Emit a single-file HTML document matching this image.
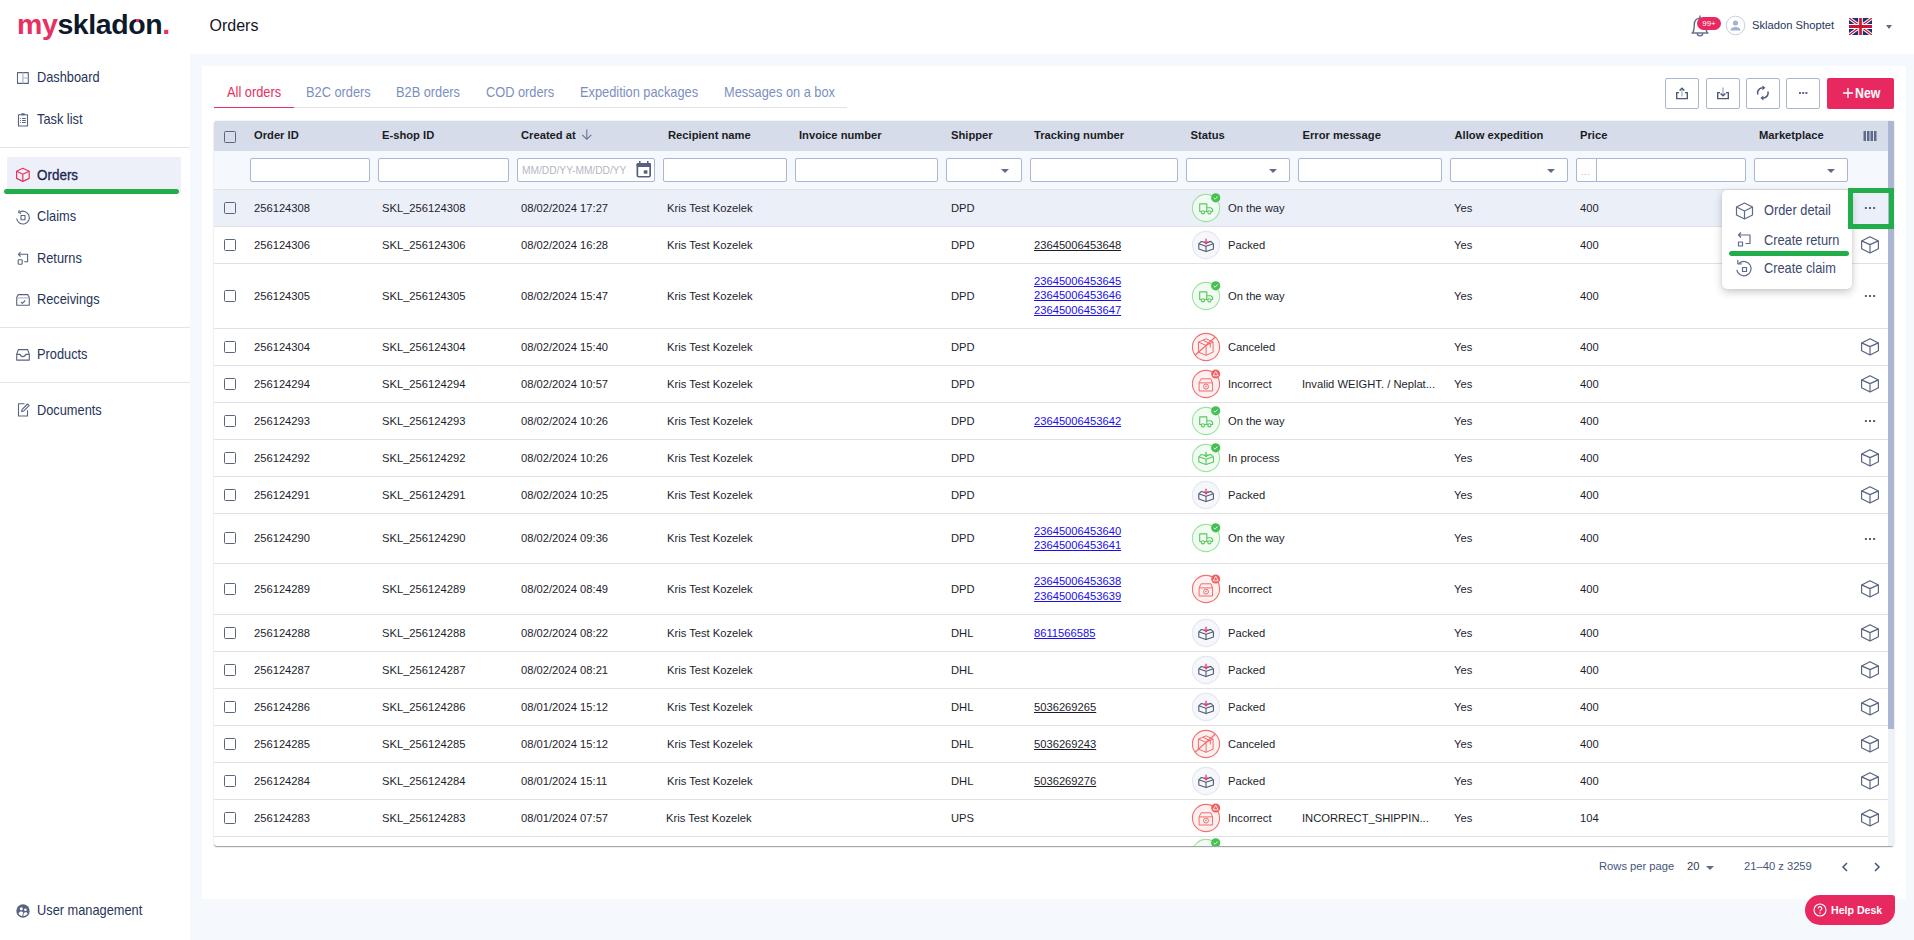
<!DOCTYPE html><html><head><meta charset="utf-8"><title>Orders</title><style>
*{box-sizing:border-box;margin:0;padding:0}
html,body{width:1914px;height:940px;overflow:hidden;background:#f5f8fd;font-family:"Liberation Sans", sans-serif;}
.abs{position:absolute}
#side{position:absolute;left:0;top:0;width:190px;height:940px;background:#fff}
#top{position:absolute;left:0;top:0;width:1914px;height:54px;background:#fff}
.nav{position:absolute;left:0;width:190px;font-size:12.8px;color:#26345a;height:20px;line-height:20px}
.nav span{position:absolute;left:36.9px;top:0px;font-size:14.1px;transform:scaleX(0.908);transform-origin:0 0;white-space:nowrap}
.nav svg{position:absolute;left:16px;top:4px}
.sep{position:absolute;left:0;width:190px;height:1px;background:#e3e4e8}
#card{position:absolute;left:202px;top:66px;width:1704px;height:833px;background:#fff}
.tab{position:absolute;top:84px;font-size:14.1px;color:#7c8fbf;line-height:16px;white-space:nowrap;transform:scaleX(0.908);transform-origin:0 0}
.th{position:absolute;top:128px;font-size:11.2px;font-weight:bold;color:#1a1c24;line-height:14px;white-space:nowrap}
.inp{position:absolute;top:158px;height:24px;background:#fff;border:1px solid #a9b6d4;border-radius:2px}
.car{position:absolute;width:0;height:0;border-left:4.5px solid transparent;border-right:4.5px solid transparent;border-top:5px solid #5f6b8a}
.cb{position:absolute;width:12px;height:12px;border:1.5px solid #5c6580;border-radius:1.5px;background:transparent}
.row{position:absolute;left:214px;width:1674px;border-bottom:1px solid #e1e1e3}
.td{position:absolute;font-size:11.2px;color:#1d1e2c;line-height:14px;white-space:nowrap}
.lnk{color:#1a0dee;text-decoration:underline;}
.dk{color:#1d1e2c}
.btn{position:absolute;top:78px;width:34px;height:31px;border:1px solid #aab6d3;border-radius:2px;background:#fff}
.mi{position:absolute;left:1764px;font-size:14.1px;color:#3b4870;line-height:16px;transform:scaleX(0.908);transform-origin:0 0;white-space:nowrap}
</style></head><body>
<div id="top"></div>
<div class="abs" style="left:17px;top:4px;font-size:28.5px;font-weight:bold;letter-spacing:-0.4px;line-height:40px;white-space:nowrap"><span style="color:#e8305f">my</span><span style="color:#0e1a2b">skladon</span><span style="color:#e8305f">.</span></div>
<div class="abs" style="left:135.8px;top:18.5px;width:3.2px;height:3.2px;background:#e8305f"></div>
<div class="abs" style="left:209.5px;top:16px;font-size:16px;color:#12141f;line-height:20px">Orders</div>
<svg class="abs" style="left:1689px;top:13px" width="24" height="26" viewBox="0 0 24 26"><g fill="none" stroke="#5e6a88" stroke-width="1.4" stroke-linejoin="round"><path d="M2.5 20h17"/><path d="M3.5 20c1.5-2 1.8-4.5 1.8-8.5 0-4 2.6-6.3 5.7-6.3s5.7 2.3 5.7 6.3c0 4 .3 6.5 1.8 8.5"/><path d="M8.3 20.3a2.7 2.6 0 0 0 5.4 0"/><path d="M11 5V2.5"/></g></svg>
<div class="abs" style="left:1697px;top:16.5px;width:24px;height:13px;border-radius:7px;background:#e8285e;color:#fff;font-size:8px;line-height:13px;text-align:center">99+</div>
<svg class="abs" style="left:1725px;top:15px" width="22" height="22" viewBox="0 0 22 22"><circle cx="10.5" cy="10.5" r="9.3" fill="#fff" stroke="#c9cfdf" stroke-width="1"/><circle cx="10.5" cy="8" r="2.6" fill="#a6b1cc"/><path d="M5.5 15.5c0-2.5 2.5-3.5 5-3.5s5 1 5 3.5z" fill="#a6b1cc"/></svg>
<div class="abs" style="left:1752px;top:17.5px;font-size:11.2px;color:#26345a;line-height:15px">Skladon Shoptet</div>
<svg class="abs" style="left:1849px;top:18px" width="23" height="17" viewBox="0 0 60 40" preserveAspectRatio="none"><rect width="60" height="40" fill="#1f2f74"/><path d="M0 0L60 40M60 0L0 40" stroke="#fff" stroke-width="8"/><path d="M0 0L60 40M60 0L0 40" stroke="#cc1433" stroke-width="3"/><path d="M30 0v40M0 20h60" stroke="#fff" stroke-width="12"/><path d="M30 0v40M0 20h60" stroke="#cc1433" stroke-width="7"/></svg>
<div class="car" style="left:1885.5px;top:24.8px;border-left-width:3.8px;border-right-width:3.8px;border-top-width:4.2px;border-top-color:#5f6b8a"></div>
<div id="side" style="top:54px;height:886px"></div>
<div class="abs" style="left:190px;top:54px;width:1px;height:0"></div>
<div class="nav" style="top:67px"><span>Dashboard</span></div>
<div class="nav" style="top:109px"><span>Task list</span></div>
<div class="nav" style="top:206px"><span>Claims</span></div>
<div class="nav" style="top:248px"><span>Returns</span></div>
<div class="nav" style="top:289px"><span>Receivings</span></div>
<div class="nav" style="top:344px"><span>Products</span></div>
<div class="nav" style="top:400px"><span>Documents</span></div>
<div class="nav" style="top:900px"><span>User management</span></div>
<div class="sep" style="top:147px"></div>
<div class="sep" style="top:327px"></div>
<div class="sep" style="top:382px"></div>
<div class="abs" style="left:7px;top:157px;width:174px;height:36px;background:#edf0f8"></div>
<div class="abs" style="left:4px;top:189px;width:175px;height:5px;border-radius:3px;background:#22ad4b"></div>
<div class="nav" style="top:164.3px"><span style="font-size:14.3px;transform:scaleX(0.94);-webkit-text-stroke:0.3px #1a2550;color:#1a2550;top:0.5px">Orders</span></div>
<svg class="abs" style="left:0;top:0" width="40" height="940" viewBox="0 0 40 940"><g fill="none" stroke="#58647f" stroke-width="1.1" stroke-linejoin="round">
<rect x="17.5" y="72.6" width="10.8" height="10.8"/>
<rect x="18.5" y="114.7" width="9" height="11.3"/>
<path d="M21.3 114.3H24.7" stroke-width="2"/>
<path d="M20.2 118.5H21M22.1 118.5H25.8M20.2 120.5H21M22.1 120.5H25.8M20.2 122.5H21M22.1 122.5H25.8" stroke-width="1"/>
<path d="M16.6 218.5A6.4 6.4 0 1 0 19.5 212.2"/><path d="M19.4 210.2L18.6 212.4L21.2 213.4"/>
<rect x="21" y="215.5" width="4" height="4.2"/>
<path d="M18.5 254.3H27.6V261.8H24.2"/><path d="M20.6 252.2L18.4 254.3L20.6 256.5"/>
<rect x="18.2" y="259.8" width="4" height="4.4" rx="0.6"/>
<path d="M16.7 297.6L18.3 294.6H27.7L29.3 297.6V305.2H16.7Z"/><path d="M16.7 297.9H29.3" stroke="#a6afc4"/><path d="M21 302.2L22.3 303.4L25.3 300.5"/>
<path d="M16.7 354.4L18.3 349.6H27.7L29.3 354.4V360.1H16.7Z"/><path d="M16.7 354.4H20.2C20.6 356.6 21.5 356.6 22.9 356.6C24.3 356.6 25.2 356.6 25.6 354.4H29.3"/>
<path d="M24.5 403.8H18.5V416H27.5V410.2"/><path d="M21.6 411.6L22.2 409.3L27.5 404L29.1 405.6L23.8 410.9Z"/>
</g>
<path d="M22.9 72.6V83.4M22.9 78H28.3" stroke="#a6afc4" stroke-width="1.1"/>
<g fill="none" stroke="#e6365f" stroke-width="1.2" stroke-linejoin="round"><path d="M22.8 168.3L29.2 171.3V178.4L22.8 181.4L16.6 178.4V171.3Z"/><path d="M16.6 171.3L22.8 174.2L29.2 171.3M22.8 174.2V181.4"/></g>
<circle cx="23" cy="911" r="6.7" fill="#58647f"/><circle cx="21.3" cy="908.8" r="1.55" fill="#fff"/><circle cx="25.4" cy="909.8" r="1.3" fill="#fff"/>
<path d="M18.4 913.6C19.2 912.2 20.3 911.6 21.4 911.6C22.2 911.6 22.8 912 23.1 912.5L22.2 916.3C20.6 916 19.3 915 18.4 913.6Z" fill="#fff"/><path d="M23.6 913.4C24.1 912.6 24.8 912.3 25.5 912.3C26.4 912.3 27.2 912.8 27.7 913.6C26.8 915 25.4 916 23.4 916.3Z" fill="#fff"/>
</svg>
<div id="card"></div>
<div class="tab" style="left:227px;color:#e8305f">All orders</div>
<div class="tab" style="left:306.2px;">B2C orders</div>
<div class="tab" style="left:396.3px;">B2B orders</div>
<div class="tab" style="left:485.8px;">COD orders</div>
<div class="tab" style="left:580px;">Expedition packages</div>
<div class="tab" style="left:724px;">Messages on a box</div>
<div class="abs" style="left:214px;top:107px;width:633px;height:1px;background:#e2e3e8"></div>
<div class="abs" style="left:214px;top:106.6px;width:80px;height:1.8px;background:#e8305f"></div>
<div class="btn" style="left:1665px"><svg width="34" height="31" viewBox="0 0 34 31" style="position:absolute;left:0;top:0"><path d="M16 10v7.5" stroke="#aab4c8" stroke-width="1.4"/><g fill="none" stroke="#4d5878" stroke-width="1.4"><path d="M13 13.6H10.7V19.6H21.3V13.6H19"/><path d="M13.6 11.6L16 9.2l2.4 2.4"/></g></svg></div>
<div class="btn" style="left:1706px"><svg width="34" height="31" viewBox="0 0 34 31" style="position:absolute;left:0;top:0"><path d="M16 8.5V16" stroke="#aab4c8" stroke-width="1.4"/><g fill="none" stroke="#4d5878" stroke-width="1.4"><path d="M13 13.6H10.7V19.6H21.3V13.6H19"/><path d="M13.6 14.4L16 16.8l2.4-2.4"/></g></svg></div>
<div class="btn" style="left:1746px"><svg width="34" height="31" viewBox="0 0 34 31" style="position:absolute;left:0;top:0"><g fill="none" stroke="#4d5878" stroke-width="1.5"><path d="M10.8 15.5A5.1 5.1 0 0 1 15.5 8.8"/><path d="M20.9 12.5A5.1 5.1 0 0 1 16.2 19.1"/></g><path d="M15.4 6.4L18.4 8.8 15.4 11.3z M16.4 16.6L13.4 19.1 16.4 21.6z" fill="#4d5878"/></svg></div>
<div class="btn" style="left:1786px"><svg width="34" height="31" viewBox="0 0 34 31" style="position:absolute;left:0;top:0"><g fill="#5f6b8a"><rect x="12" y="13" width="2" height="2"/><rect x="15.2" y="13" width="2" height="2"/><rect x="18.4" y="13" width="2" height="2"/></g></svg></div>
<div class="abs" style="left:1827px;top:78px;width:67px;height:31px;background:#e8295f;border-radius:2px;color:#fff;font-size:13.5px;line-height:31px;white-space:nowrap"><svg style="position:absolute;left:16px;top:10px" width="10" height="10" viewBox="0 0 10 10"><path d="M5 0v10M0 5h10" stroke="#fff" stroke-width="1.4"/></svg><span style="position:absolute;left:28.3px;top:-0.3px;font-weight:bold;font-size:14px;transform:scaleX(0.88);transform-origin:0 50%">New</span></div>
<div class="abs" style="left:214px;top:121px;width:1680px;height:725px;background:#fff;border-radius:3.2px;box-shadow:0 1.6px 0.8px -0.8px rgba(0,0,0,.2),0 0.8px 0.8px rgba(0,0,0,.14),0 0.8px 2.4px rgba(0,0,0,.12)"></div>
<div class="abs" style="left:214px;top:121px;width:1674px;height:30px;background:#d7dcea;border-radius:3px 0 0 0"></div>
<div class="abs" style="left:214px;top:151px;width:1674px;height:39px;background:#f5f8fd;border-bottom:1px solid #e1e1e3"></div>
<div class="abs" style="left:1888px;top:121px;width:6px;height:725px;background:#eef1f7"></div>
<div class="abs" style="left:1888px;top:121px;width:6px;height:608px;background:#aab6d2"></div>
<div class="cb" style="left:224px;top:131px"></div>
<div class="th" style="left:254px">Order ID</div>
<div class="th" style="left:382px">E-shop ID</div>
<div class="th" style="left:521px">Created at</div>
<div class="th" style="left:668px">Recipient name</div>
<div class="th" style="left:799px">Invoice number</div>
<div class="th" style="left:951px">Shipper</div>
<div class="th" style="left:1034px">Tracking number</div>
<div class="th" style="left:1190.5px">Status</div>
<div class="th" style="left:1302.5px">Error message</div>
<div class="th" style="left:1454.5px">Allow expedition</div>
<div class="th" style="left:1580px">Price</div>
<div class="th" style="left:1759px">Marketplace</div>
<svg class="abs" style="left:580.5px;top:128.8px" width="12" height="12" viewBox="0 0 12 12"><g fill="none" stroke="#66718f" stroke-width="1.1"><path d="M5.8 0.5V10.3M1.3 5.8L5.8 10.3L10.3 5.8"/></g></svg>
<svg class="abs" style="left:1863px;top:130px" width="14" height="12" viewBox="0 0 14 12"><g fill="#5f6b8a"><rect x="0.5" y="1" width="2.5" height="10"/><rect x="4" y="1" width="2.5" height="10"/><rect x="7.5" y="1" width="2.5" height="10"/><rect x="11" y="1" width="2.5" height="10"/></g></svg>
<div class="inp" style="left:250px;width:120px"></div>
<div class="inp" style="left:378px;width:131px"></div>
<div class="inp" style="left:517px;width:138px"></div>
<div class="inp" style="left:663px;width:124px"></div>
<div class="inp" style="left:795px;width:143px"></div>
<div class="inp" style="left:946px;width:76px"></div>
<div class="car" style="left:1001px;top:169px;border-left-width:4.2px;border-right-width:4.2px;border-top-width:4.5px"></div>
<div class="inp" style="left:1030px;width:148px"></div>
<div class="inp" style="left:1186px;width:104px"></div>
<div class="car" style="left:1269px;top:169px;border-left-width:4.2px;border-right-width:4.2px;border-top-width:4.5px"></div>
<div class="inp" style="left:1298px;width:144px"></div>
<div class="inp" style="left:1450px;width:118px"></div>
<div class="car" style="left:1547px;top:169px;border-left-width:4.2px;border-right-width:4.2px;border-top-width:4.5px"></div>
<div class="inp" style="left:1576px;width:170px"></div>
<div class="inp" style="left:1754px;width:94px"></div>
<div class="car" style="left:1827px;top:169px;border-left-width:4.2px;border-right-width:4.2px;border-top-width:4.5px"></div>
<div class="abs" style="left:522px;top:164.5px;font-size:10.2px;color:#b3b7c2;line-height:12px;white-space:nowrap">MM/DD/YY-MM/DD/YY</div>
<svg class="abs" style="left:636px;top:160.5px" width="16" height="17" viewBox="0 0 16 17"><rect x="1.35" y="2.85" width="12.8" height="12.9" rx="1.4" fill="none" stroke="#56617f" stroke-width="1.7"/><rect x="0.5" y="2" width="14.5" height="4" rx="1.4" fill="#56617f"/><rect x="3" y="0" width="1.5" height="3" fill="#56617f"/><rect x="11" y="0" width="1.5" height="3" fill="#56617f"/><rect x="7.8" y="9.3" width="3.6" height="3.4" fill="#56617f"/></svg>
<div class="abs" style="left:1596px;top:159px;width:1px;height:22px;background:#a9b6d4"></div>
<div class="abs" style="left:1581px;top:167px;font-size:9px;color:#c7a07a;line-height:10px;letter-spacing:0.5px">...</div>
<div class="row" style="top:190px;height:37px;background:#ebeff8;"></div>
<div class="cb" style="left:224px;top:201.5px"></div>
<div class="td" style="left:254px;top:200.5px">256124308</div>
<div class="td" style="left:382px;top:200.5px">SKL_256124308</div>
<div class="td" style="left:521px;top:200.5px">08/02/2024 17:27</div>
<div class="td" style="left:667px;top:200.5px">Kris Test Kozelek</div>
<div class="td" style="left:951px;top:200.5px">DPD</div>
<div class="abs" style="left:1187.7px;top:189.7px;width:36px;height:36px"><svg width="36" height="36" viewBox="-18 -18 36 36" style="position:absolute;left:0;top:0"><circle cx="0" cy="0" r="13.6" fill="#f0fcf1" stroke="#9fe2a4" stroke-width="1.1"/><g fill="none" stroke="#5bc862" stroke-width="1.15" stroke-linejoin="round"><path d="M0.8 3.5H-6.3V-4.1H0.8V3.5"/><path d="M0.8 -0.3H4.8L6.6 1.5V3.5H5"/><path d="M-1.3 3.5H1.7"/><circle cx="-3.1" cy="4.3" r="1.6" fill="#f0fcf1"/><circle cx="3.4" cy="4.3" r="1.6" fill="#f0fcf1"/></g><circle cx="9.7" cy="-10.2" r="4.6" fill="#46c052"/><path d="M7.7 -10L9 -8.8L11.6 -11.5" stroke="#fff" stroke-width="0.9" fill="none"/></svg></div>
<div class="td" style="left:1228px;top:200.5px">On the way</div>
<div class="td" style="left:1454px;top:200.5px">Yes</div>
<div class="td" style="left:1580px;top:200.5px">400</div>
<svg class="abs" style="left:1862px;top:205.0px" width="16" height="6" viewBox="0 0 16 6"><g fill="#55607f"><rect x="2.9" y="2" width="2" height="2"/><rect x="7" y="2" width="2" height="2"/><rect x="11.1" y="2" width="2" height="2"/></g></svg>
<div class="row" style="top:227px;height:37px;"></div>
<div class="cb" style="left:224px;top:238.5px"></div>
<div class="td" style="left:254px;top:237.5px">256124306</div>
<div class="td" style="left:382px;top:237.5px">SKL_256124306</div>
<div class="td" style="left:521px;top:237.5px">08/02/2024 16:28</div>
<div class="td" style="left:667px;top:237.5px">Kris Test Kozelek</div>
<div class="td" style="left:951px;top:237.5px">DPD</div>
<div class="td lnk dk" style="left:1034px;top:238.3px">23645006453648</div>
<div class="abs" style="left:1187.7px;top:226.7px;width:36px;height:36px"><svg width="36" height="36" viewBox="-18 -18 36 36" style="position:absolute;left:0;top:0"><circle cx="0" cy="0" r="13.6" fill="#f6f7fb" stroke="#e3e7f1" stroke-width="1.1"/><g fill="none" stroke="#4e5a78" stroke-width="1.1" stroke-linejoin="round"><path d="M-7.2 -1.2L0 1.2L7.4 -1.2"/><path d="M-7.2 -1.2V4L0 6.6L7.4 4V-1.2"/><path d="M0 1.2V6.6"/><path d="M-7.2 -1.2L-4.6 -3.6L-0.9 -2.4M7.4 -1.2L4.8 -3.6L0.9 -2.4"/></g><g stroke="#e8336a" stroke-width="1.3" fill="none"><path d="M0 -6.2V-1.4"/><path d="M-2 -3.4L0 -1.3L2 -3.4"/></g></svg></div>
<div class="td" style="left:1228px;top:237.5px">Packed</div>
<div class="td" style="left:1454px;top:237.5px">Yes</div>
<div class="td" style="left:1580px;top:237.5px">400</div>
<div class="abs" style="left:1860px;top:235.0px"><svg width="20" height="20" viewBox="0 0 20 20"><g fill="none" stroke="#56617f" stroke-width="1.15" stroke-linejoin="round"><path d="M10 1.7L18.4 5.9V13.8L10 18L1.6 13.8V5.9Z"/><path d="M1.6 5.9L10 9.6L18.4 5.9M10 9.6V18"/></g></svg></div>
<div class="row" style="top:264px;height:65px;"></div>
<div class="cb" style="left:224px;top:289.5px"></div>
<div class="td" style="left:254px;top:288.5px">256124305</div>
<div class="td" style="left:382px;top:288.5px">SKL_256124305</div>
<div class="td" style="left:521px;top:288.5px">08/02/2024 15:47</div>
<div class="td" style="left:667px;top:288.5px">Kris Test Kozelek</div>
<div class="td" style="left:951px;top:288.5px">DPD</div>
<div class="td lnk" style="left:1034px;top:273.70000000000005px">23645006453645</div>
<div class="td lnk" style="left:1034px;top:288.30000000000007px">23645006453646</div>
<div class="td lnk" style="left:1034px;top:302.90000000000003px">23645006453647</div>
<div class="abs" style="left:1187.7px;top:277.7px;width:36px;height:36px"><svg width="36" height="36" viewBox="-18 -18 36 36" style="position:absolute;left:0;top:0"><circle cx="0" cy="0" r="13.6" fill="#f0fcf1" stroke="#9fe2a4" stroke-width="1.1"/><g fill="none" stroke="#5bc862" stroke-width="1.15" stroke-linejoin="round"><path d="M0.8 3.5H-6.3V-4.1H0.8V3.5"/><path d="M0.8 -0.3H4.8L6.6 1.5V3.5H5"/><path d="M-1.3 3.5H1.7"/><circle cx="-3.1" cy="4.3" r="1.6" fill="#f0fcf1"/><circle cx="3.4" cy="4.3" r="1.6" fill="#f0fcf1"/></g><circle cx="9.7" cy="-10.2" r="4.6" fill="#46c052"/><path d="M7.7 -10L9 -8.8L11.6 -11.5" stroke="#fff" stroke-width="0.9" fill="none"/></svg></div>
<div class="td" style="left:1228px;top:288.5px">On the way</div>
<div class="td" style="left:1454px;top:288.5px">Yes</div>
<div class="td" style="left:1580px;top:288.5px">400</div>
<svg class="abs" style="left:1862px;top:293.0px" width="16" height="6" viewBox="0 0 16 6"><g fill="#55607f"><rect x="2.9" y="2" width="2" height="2"/><rect x="7" y="2" width="2" height="2"/><rect x="11.1" y="2" width="2" height="2"/></g></svg>
<div class="row" style="top:329px;height:37px;"></div>
<div class="cb" style="left:224px;top:340.5px"></div>
<div class="td" style="left:254px;top:339.5px">256124304</div>
<div class="td" style="left:382px;top:339.5px">SKL_256124304</div>
<div class="td" style="left:521px;top:339.5px">08/02/2024 15:40</div>
<div class="td" style="left:667px;top:339.5px">Kris Test Kozelek</div>
<div class="td" style="left:951px;top:339.5px">DPD</div>
<div class="abs" style="left:1187.7px;top:328.7px;width:36px;height:36px"><svg width="36" height="36" viewBox="-18 -18 36 36" style="position:absolute;left:0;top:0"><circle cx="0" cy="0" r="13.6" fill="#fdf0f0" stroke="#f37070" stroke-width="1.1"/><g fill="none" stroke="#f36a6a" stroke-width="1.0" stroke-linejoin="round"><path d="M-7.6 -4.9L0.1 -8.2L7.1 -4.9V5.2L0.1 8.3L-7.6 5.2Z"/><path d="M-7.6 -4.9L0.1 -1.6L7.1 -4.9M0.1 -1.6V8.3"/><path d="M-3 -6.7L4.3 -3.2V0.4"/></g><path d="M-11 8.3L9.4 -10" stroke="#f36a6a" stroke-width="1.15"/></svg></div>
<div class="td" style="left:1228px;top:339.5px">Canceled</div>
<div class="td" style="left:1454px;top:339.5px">Yes</div>
<div class="td" style="left:1580px;top:339.5px">400</div>
<div class="abs" style="left:1860px;top:337.0px"><svg width="20" height="20" viewBox="0 0 20 20"><g fill="none" stroke="#56617f" stroke-width="1.15" stroke-linejoin="round"><path d="M10 1.7L18.4 5.9V13.8L10 18L1.6 13.8V5.9Z"/><path d="M1.6 5.9L10 9.6L18.4 5.9M10 9.6V18"/></g></svg></div>
<div class="row" style="top:366px;height:37px;"></div>
<div class="cb" style="left:224px;top:377.5px"></div>
<div class="td" style="left:254px;top:376.5px">256124294</div>
<div class="td" style="left:382px;top:376.5px">SKL_256124294</div>
<div class="td" style="left:521px;top:376.5px">08/02/2024 10:57</div>
<div class="td" style="left:667px;top:376.5px">Kris Test Kozelek</div>
<div class="td" style="left:951px;top:376.5px">DPD</div>
<div class="abs" style="left:1187.7px;top:365.7px;width:36px;height:36px"><svg width="36" height="36" viewBox="-18 -18 36 36" style="position:absolute;left:0;top:0"><circle cx="0" cy="0" r="13.6" fill="#fdf0f0" stroke="#f37070" stroke-width="1.1"/><g fill="none" stroke="#f36a6a" stroke-width="1.0" stroke-linejoin="round"><path d="M-6.9 -1.1H6.6V7H-6.9Z"/><path d="M-6.9 -1.1L-4.9 -5.2H4.8L6.6 -1.1"/><circle cx="0" cy="2.6" r="2.5"/><path d="M-0.9 2.9L0.9 2.2"/></g><circle cx="9.7" cy="-10" r="4.5" fill="#f25f5f"/><path d="M9.7 -12.8L12.2 -8.2H7.2Z" stroke="#fff" stroke-width="0.8" fill="none" stroke-linejoin="round"/></svg></div>
<div class="td" style="left:1228px;top:376.5px">Incorrect</div>
<div class="td" style="left:1302px;top:376.5px">Invalid WEIGHT. / Neplat...</div>
<div class="td" style="left:1454px;top:376.5px">Yes</div>
<div class="td" style="left:1580px;top:376.5px">400</div>
<div class="abs" style="left:1860px;top:374.0px"><svg width="20" height="20" viewBox="0 0 20 20"><g fill="none" stroke="#56617f" stroke-width="1.15" stroke-linejoin="round"><path d="M10 1.7L18.4 5.9V13.8L10 18L1.6 13.8V5.9Z"/><path d="M1.6 5.9L10 9.6L18.4 5.9M10 9.6V18"/></g></svg></div>
<div class="row" style="top:403px;height:37px;"></div>
<div class="cb" style="left:224px;top:414.5px"></div>
<div class="td" style="left:254px;top:413.5px">256124293</div>
<div class="td" style="left:382px;top:413.5px">SKL_256124293</div>
<div class="td" style="left:521px;top:413.5px">08/02/2024 10:26</div>
<div class="td" style="left:667px;top:413.5px">Kris Test Kozelek</div>
<div class="td" style="left:951px;top:413.5px">DPD</div>
<div class="td lnk" style="left:1034px;top:414.3px">23645006453642</div>
<div class="abs" style="left:1187.7px;top:402.7px;width:36px;height:36px"><svg width="36" height="36" viewBox="-18 -18 36 36" style="position:absolute;left:0;top:0"><circle cx="0" cy="0" r="13.6" fill="#f0fcf1" stroke="#9fe2a4" stroke-width="1.1"/><g fill="none" stroke="#5bc862" stroke-width="1.15" stroke-linejoin="round"><path d="M0.8 3.5H-6.3V-4.1H0.8V3.5"/><path d="M0.8 -0.3H4.8L6.6 1.5V3.5H5"/><path d="M-1.3 3.5H1.7"/><circle cx="-3.1" cy="4.3" r="1.6" fill="#f0fcf1"/><circle cx="3.4" cy="4.3" r="1.6" fill="#f0fcf1"/></g><circle cx="9.7" cy="-10.2" r="4.6" fill="#46c052"/><path d="M7.7 -10L9 -8.8L11.6 -11.5" stroke="#fff" stroke-width="0.9" fill="none"/></svg></div>
<div class="td" style="left:1228px;top:413.5px">On the way</div>
<div class="td" style="left:1454px;top:413.5px">Yes</div>
<div class="td" style="left:1580px;top:413.5px">400</div>
<svg class="abs" style="left:1862px;top:418.0px" width="16" height="6" viewBox="0 0 16 6"><g fill="#55607f"><rect x="2.9" y="2" width="2" height="2"/><rect x="7" y="2" width="2" height="2"/><rect x="11.1" y="2" width="2" height="2"/></g></svg>
<div class="row" style="top:440px;height:37px;"></div>
<div class="cb" style="left:224px;top:451.5px"></div>
<div class="td" style="left:254px;top:450.5px">256124292</div>
<div class="td" style="left:382px;top:450.5px">SKL_256124292</div>
<div class="td" style="left:521px;top:450.5px">08/02/2024 10:26</div>
<div class="td" style="left:667px;top:450.5px">Kris Test Kozelek</div>
<div class="td" style="left:951px;top:450.5px">DPD</div>
<div class="abs" style="left:1187.7px;top:439.7px;width:36px;height:36px"><svg width="36" height="36" viewBox="-18 -18 36 36" style="position:absolute;left:0;top:0"><circle cx="0" cy="0" r="13.6" fill="#f0fcf1" stroke="#9fe2a4" stroke-width="1.1"/><g fill="none" stroke="#5bc862" stroke-width="1.1" stroke-linejoin="round"><path d="M-7.2 -1.2L0 1.2L7.4 -1.2"/><path d="M-7.2 -1.2V4L0 6.6L7.4 4V-1.2"/><path d="M0 1.2V6.6"/><path d="M-7.2 -1.2L-4.6 -3.6L-0.9 -2.4M7.4 -1.2L4.8 -3.6L0.9 -2.4"/></g><g stroke="#5bc862" stroke-width="1.3" fill="none"><path d="M0 -6.2V-1.4"/><path d="M-2 -3.4L0 -1.3L2 -3.4"/></g><circle cx="9.7" cy="-10.2" r="4.6" fill="#46c052"/><path d="M7.7 -10L9 -8.8L11.6 -11.5" stroke="#fff" stroke-width="0.9" fill="none"/></svg></div>
<div class="td" style="left:1228px;top:450.5px">In process</div>
<div class="td" style="left:1454px;top:450.5px">Yes</div>
<div class="td" style="left:1580px;top:450.5px">400</div>
<div class="abs" style="left:1860px;top:448.0px"><svg width="20" height="20" viewBox="0 0 20 20"><g fill="none" stroke="#56617f" stroke-width="1.15" stroke-linejoin="round"><path d="M10 1.7L18.4 5.9V13.8L10 18L1.6 13.8V5.9Z"/><path d="M1.6 5.9L10 9.6L18.4 5.9M10 9.6V18"/></g></svg></div>
<div class="row" style="top:477px;height:37px;"></div>
<div class="cb" style="left:224px;top:488.5px"></div>
<div class="td" style="left:254px;top:487.5px">256124291</div>
<div class="td" style="left:382px;top:487.5px">SKL_256124291</div>
<div class="td" style="left:521px;top:487.5px">08/02/2024 10:25</div>
<div class="td" style="left:667px;top:487.5px">Kris Test Kozelek</div>
<div class="td" style="left:951px;top:487.5px">DPD</div>
<div class="abs" style="left:1187.7px;top:476.7px;width:36px;height:36px"><svg width="36" height="36" viewBox="-18 -18 36 36" style="position:absolute;left:0;top:0"><circle cx="0" cy="0" r="13.6" fill="#f6f7fb" stroke="#e3e7f1" stroke-width="1.1"/><g fill="none" stroke="#4e5a78" stroke-width="1.1" stroke-linejoin="round"><path d="M-7.2 -1.2L0 1.2L7.4 -1.2"/><path d="M-7.2 -1.2V4L0 6.6L7.4 4V-1.2"/><path d="M0 1.2V6.6"/><path d="M-7.2 -1.2L-4.6 -3.6L-0.9 -2.4M7.4 -1.2L4.8 -3.6L0.9 -2.4"/></g><g stroke="#e8336a" stroke-width="1.3" fill="none"><path d="M0 -6.2V-1.4"/><path d="M-2 -3.4L0 -1.3L2 -3.4"/></g></svg></div>
<div class="td" style="left:1228px;top:487.5px">Packed</div>
<div class="td" style="left:1454px;top:487.5px">Yes</div>
<div class="td" style="left:1580px;top:487.5px">400</div>
<div class="abs" style="left:1860px;top:485.0px"><svg width="20" height="20" viewBox="0 0 20 20"><g fill="none" stroke="#56617f" stroke-width="1.15" stroke-linejoin="round"><path d="M10 1.7L18.4 5.9V13.8L10 18L1.6 13.8V5.9Z"/><path d="M1.6 5.9L10 9.6L18.4 5.9M10 9.6V18"/></g></svg></div>
<div class="row" style="top:514px;height:50px;"></div>
<div class="cb" style="left:224px;top:532.0px"></div>
<div class="td" style="left:254px;top:531.0px">256124290</div>
<div class="td" style="left:382px;top:531.0px">SKL_256124290</div>
<div class="td" style="left:521px;top:531.0px">08/02/2024 09:36</div>
<div class="td" style="left:667px;top:531.0px">Kris Test Kozelek</div>
<div class="td" style="left:951px;top:531.0px">DPD</div>
<div class="td lnk" style="left:1034px;top:523.5px">23645006453640</div>
<div class="td lnk" style="left:1034px;top:538.1px">23645006453641</div>
<div class="abs" style="left:1187.7px;top:520.2px;width:36px;height:36px"><svg width="36" height="36" viewBox="-18 -18 36 36" style="position:absolute;left:0;top:0"><circle cx="0" cy="0" r="13.6" fill="#f0fcf1" stroke="#9fe2a4" stroke-width="1.1"/><g fill="none" stroke="#5bc862" stroke-width="1.15" stroke-linejoin="round"><path d="M0.8 3.5H-6.3V-4.1H0.8V3.5"/><path d="M0.8 -0.3H4.8L6.6 1.5V3.5H5"/><path d="M-1.3 3.5H1.7"/><circle cx="-3.1" cy="4.3" r="1.6" fill="#f0fcf1"/><circle cx="3.4" cy="4.3" r="1.6" fill="#f0fcf1"/></g><circle cx="9.7" cy="-10.2" r="4.6" fill="#46c052"/><path d="M7.7 -10L9 -8.8L11.6 -11.5" stroke="#fff" stroke-width="0.9" fill="none"/></svg></div>
<div class="td" style="left:1228px;top:531.0px">On the way</div>
<div class="td" style="left:1454px;top:531.0px">Yes</div>
<div class="td" style="left:1580px;top:531.0px">400</div>
<svg class="abs" style="left:1862px;top:535.5px" width="16" height="6" viewBox="0 0 16 6"><g fill="#55607f"><rect x="2.9" y="2" width="2" height="2"/><rect x="7" y="2" width="2" height="2"/><rect x="11.1" y="2" width="2" height="2"/></g></svg>
<div class="row" style="top:564px;height:51px;"></div>
<div class="cb" style="left:224px;top:582.5px"></div>
<div class="td" style="left:254px;top:581.5px">256124289</div>
<div class="td" style="left:382px;top:581.5px">SKL_256124289</div>
<div class="td" style="left:521px;top:581.5px">08/02/2024 08:49</div>
<div class="td" style="left:667px;top:581.5px">Kris Test Kozelek</div>
<div class="td" style="left:951px;top:581.5px">DPD</div>
<div class="td lnk" style="left:1034px;top:574.0px">23645006453638</div>
<div class="td lnk" style="left:1034px;top:588.6px">23645006453639</div>
<div class="abs" style="left:1187.7px;top:570.7px;width:36px;height:36px"><svg width="36" height="36" viewBox="-18 -18 36 36" style="position:absolute;left:0;top:0"><circle cx="0" cy="0" r="13.6" fill="#fdf0f0" stroke="#f37070" stroke-width="1.1"/><g fill="none" stroke="#f36a6a" stroke-width="1.0" stroke-linejoin="round"><path d="M-6.9 -1.1H6.6V7H-6.9Z"/><path d="M-6.9 -1.1L-4.9 -5.2H4.8L6.6 -1.1"/><circle cx="0" cy="2.6" r="2.5"/><path d="M-0.9 2.9L0.9 2.2"/></g><circle cx="9.7" cy="-10" r="4.5" fill="#f25f5f"/><path d="M9.7 -12.8L12.2 -8.2H7.2Z" stroke="#fff" stroke-width="0.8" fill="none" stroke-linejoin="round"/></svg></div>
<div class="td" style="left:1228px;top:581.5px">Incorrect</div>
<div class="td" style="left:1454px;top:581.5px">Yes</div>
<div class="td" style="left:1580px;top:581.5px">400</div>
<div class="abs" style="left:1860px;top:579.0px"><svg width="20" height="20" viewBox="0 0 20 20"><g fill="none" stroke="#56617f" stroke-width="1.15" stroke-linejoin="round"><path d="M10 1.7L18.4 5.9V13.8L10 18L1.6 13.8V5.9Z"/><path d="M1.6 5.9L10 9.6L18.4 5.9M10 9.6V18"/></g></svg></div>
<div class="row" style="top:615px;height:37px;"></div>
<div class="cb" style="left:224px;top:626.5px"></div>
<div class="td" style="left:254px;top:625.5px">256124288</div>
<div class="td" style="left:382px;top:625.5px">SKL_256124288</div>
<div class="td" style="left:521px;top:625.5px">08/02/2024 08:22</div>
<div class="td" style="left:667px;top:625.5px">Kris Test Kozelek</div>
<div class="td" style="left:951px;top:625.5px">DHL</div>
<div class="td lnk" style="left:1034px;top:626.3px">8611566585</div>
<div class="abs" style="left:1187.7px;top:614.7px;width:36px;height:36px"><svg width="36" height="36" viewBox="-18 -18 36 36" style="position:absolute;left:0;top:0"><circle cx="0" cy="0" r="13.6" fill="#f6f7fb" stroke="#e3e7f1" stroke-width="1.1"/><g fill="none" stroke="#4e5a78" stroke-width="1.1" stroke-linejoin="round"><path d="M-7.2 -1.2L0 1.2L7.4 -1.2"/><path d="M-7.2 -1.2V4L0 6.6L7.4 4V-1.2"/><path d="M0 1.2V6.6"/><path d="M-7.2 -1.2L-4.6 -3.6L-0.9 -2.4M7.4 -1.2L4.8 -3.6L0.9 -2.4"/></g><g stroke="#e8336a" stroke-width="1.3" fill="none"><path d="M0 -6.2V-1.4"/><path d="M-2 -3.4L0 -1.3L2 -3.4"/></g></svg></div>
<div class="td" style="left:1228px;top:625.5px">Packed</div>
<div class="td" style="left:1454px;top:625.5px">Yes</div>
<div class="td" style="left:1580px;top:625.5px">400</div>
<div class="abs" style="left:1860px;top:623.0px"><svg width="20" height="20" viewBox="0 0 20 20"><g fill="none" stroke="#56617f" stroke-width="1.15" stroke-linejoin="round"><path d="M10 1.7L18.4 5.9V13.8L10 18L1.6 13.8V5.9Z"/><path d="M1.6 5.9L10 9.6L18.4 5.9M10 9.6V18"/></g></svg></div>
<div class="row" style="top:652px;height:37px;"></div>
<div class="cb" style="left:224px;top:663.5px"></div>
<div class="td" style="left:254px;top:662.5px">256124287</div>
<div class="td" style="left:382px;top:662.5px">SKL_256124287</div>
<div class="td" style="left:521px;top:662.5px">08/02/2024 08:21</div>
<div class="td" style="left:667px;top:662.5px">Kris Test Kozelek</div>
<div class="td" style="left:951px;top:662.5px">DHL</div>
<div class="abs" style="left:1187.7px;top:651.7px;width:36px;height:36px"><svg width="36" height="36" viewBox="-18 -18 36 36" style="position:absolute;left:0;top:0"><circle cx="0" cy="0" r="13.6" fill="#f6f7fb" stroke="#e3e7f1" stroke-width="1.1"/><g fill="none" stroke="#4e5a78" stroke-width="1.1" stroke-linejoin="round"><path d="M-7.2 -1.2L0 1.2L7.4 -1.2"/><path d="M-7.2 -1.2V4L0 6.6L7.4 4V-1.2"/><path d="M0 1.2V6.6"/><path d="M-7.2 -1.2L-4.6 -3.6L-0.9 -2.4M7.4 -1.2L4.8 -3.6L0.9 -2.4"/></g><g stroke="#e8336a" stroke-width="1.3" fill="none"><path d="M0 -6.2V-1.4"/><path d="M-2 -3.4L0 -1.3L2 -3.4"/></g></svg></div>
<div class="td" style="left:1228px;top:662.5px">Packed</div>
<div class="td" style="left:1454px;top:662.5px">Yes</div>
<div class="td" style="left:1580px;top:662.5px">400</div>
<div class="abs" style="left:1860px;top:660.0px"><svg width="20" height="20" viewBox="0 0 20 20"><g fill="none" stroke="#56617f" stroke-width="1.15" stroke-linejoin="round"><path d="M10 1.7L18.4 5.9V13.8L10 18L1.6 13.8V5.9Z"/><path d="M1.6 5.9L10 9.6L18.4 5.9M10 9.6V18"/></g></svg></div>
<div class="row" style="top:689px;height:37px;"></div>
<div class="cb" style="left:224px;top:700.5px"></div>
<div class="td" style="left:254px;top:699.5px">256124286</div>
<div class="td" style="left:382px;top:699.5px">SKL_256124286</div>
<div class="td" style="left:521px;top:699.5px">08/01/2024 15:12</div>
<div class="td" style="left:667px;top:699.5px">Kris Test Kozelek</div>
<div class="td" style="left:951px;top:699.5px">DHL</div>
<div class="td lnk dk" style="left:1034px;top:700.3px">5036269265</div>
<div class="abs" style="left:1187.7px;top:688.7px;width:36px;height:36px"><svg width="36" height="36" viewBox="-18 -18 36 36" style="position:absolute;left:0;top:0"><circle cx="0" cy="0" r="13.6" fill="#f6f7fb" stroke="#e3e7f1" stroke-width="1.1"/><g fill="none" stroke="#4e5a78" stroke-width="1.1" stroke-linejoin="round"><path d="M-7.2 -1.2L0 1.2L7.4 -1.2"/><path d="M-7.2 -1.2V4L0 6.6L7.4 4V-1.2"/><path d="M0 1.2V6.6"/><path d="M-7.2 -1.2L-4.6 -3.6L-0.9 -2.4M7.4 -1.2L4.8 -3.6L0.9 -2.4"/></g><g stroke="#e8336a" stroke-width="1.3" fill="none"><path d="M0 -6.2V-1.4"/><path d="M-2 -3.4L0 -1.3L2 -3.4"/></g></svg></div>
<div class="td" style="left:1228px;top:699.5px">Packed</div>
<div class="td" style="left:1454px;top:699.5px">Yes</div>
<div class="td" style="left:1580px;top:699.5px">400</div>
<div class="abs" style="left:1860px;top:697.0px"><svg width="20" height="20" viewBox="0 0 20 20"><g fill="none" stroke="#56617f" stroke-width="1.15" stroke-linejoin="round"><path d="M10 1.7L18.4 5.9V13.8L10 18L1.6 13.8V5.9Z"/><path d="M1.6 5.9L10 9.6L18.4 5.9M10 9.6V18"/></g></svg></div>
<div class="row" style="top:726px;height:37px;"></div>
<div class="cb" style="left:224px;top:737.5px"></div>
<div class="td" style="left:254px;top:736.5px">256124285</div>
<div class="td" style="left:382px;top:736.5px">SKL_256124285</div>
<div class="td" style="left:521px;top:736.5px">08/01/2024 15:12</div>
<div class="td" style="left:667px;top:736.5px">Kris Test Kozelek</div>
<div class="td" style="left:951px;top:736.5px">DHL</div>
<div class="td lnk dk" style="left:1034px;top:737.3px">5036269243</div>
<div class="abs" style="left:1187.7px;top:725.7px;width:36px;height:36px"><svg width="36" height="36" viewBox="-18 -18 36 36" style="position:absolute;left:0;top:0"><circle cx="0" cy="0" r="13.6" fill="#fdf0f0" stroke="#f37070" stroke-width="1.1"/><g fill="none" stroke="#f36a6a" stroke-width="1.0" stroke-linejoin="round"><path d="M-7.6 -4.9L0.1 -8.2L7.1 -4.9V5.2L0.1 8.3L-7.6 5.2Z"/><path d="M-7.6 -4.9L0.1 -1.6L7.1 -4.9M0.1 -1.6V8.3"/><path d="M-3 -6.7L4.3 -3.2V0.4"/></g><path d="M-11 8.3L9.4 -10" stroke="#f36a6a" stroke-width="1.15"/></svg></div>
<div class="td" style="left:1228px;top:736.5px">Canceled</div>
<div class="td" style="left:1454px;top:736.5px">Yes</div>
<div class="td" style="left:1580px;top:736.5px">400</div>
<div class="abs" style="left:1860px;top:734.0px"><svg width="20" height="20" viewBox="0 0 20 20"><g fill="none" stroke="#56617f" stroke-width="1.15" stroke-linejoin="round"><path d="M10 1.7L18.4 5.9V13.8L10 18L1.6 13.8V5.9Z"/><path d="M1.6 5.9L10 9.6L18.4 5.9M10 9.6V18"/></g></svg></div>
<div class="row" style="top:763px;height:37px;"></div>
<div class="cb" style="left:224px;top:774.5px"></div>
<div class="td" style="left:254px;top:773.5px">256124284</div>
<div class="td" style="left:382px;top:773.5px">SKL_256124284</div>
<div class="td" style="left:521px;top:773.5px">08/01/2024 15:11</div>
<div class="td" style="left:667px;top:773.5px">Kris Test Kozelek</div>
<div class="td" style="left:951px;top:773.5px">DHL</div>
<div class="td lnk dk" style="left:1034px;top:774.3px">5036269276</div>
<div class="abs" style="left:1187.7px;top:762.7px;width:36px;height:36px"><svg width="36" height="36" viewBox="-18 -18 36 36" style="position:absolute;left:0;top:0"><circle cx="0" cy="0" r="13.6" fill="#f6f7fb" stroke="#e3e7f1" stroke-width="1.1"/><g fill="none" stroke="#4e5a78" stroke-width="1.1" stroke-linejoin="round"><path d="M-7.2 -1.2L0 1.2L7.4 -1.2"/><path d="M-7.2 -1.2V4L0 6.6L7.4 4V-1.2"/><path d="M0 1.2V6.6"/><path d="M-7.2 -1.2L-4.6 -3.6L-0.9 -2.4M7.4 -1.2L4.8 -3.6L0.9 -2.4"/></g><g stroke="#e8336a" stroke-width="1.3" fill="none"><path d="M0 -6.2V-1.4"/><path d="M-2 -3.4L0 -1.3L2 -3.4"/></g></svg></div>
<div class="td" style="left:1228px;top:773.5px">Packed</div>
<div class="td" style="left:1454px;top:773.5px">Yes</div>
<div class="td" style="left:1580px;top:773.5px">400</div>
<div class="abs" style="left:1860px;top:771.0px"><svg width="20" height="20" viewBox="0 0 20 20"><g fill="none" stroke="#56617f" stroke-width="1.15" stroke-linejoin="round"><path d="M10 1.7L18.4 5.9V13.8L10 18L1.6 13.8V5.9Z"/><path d="M1.6 5.9L10 9.6L18.4 5.9M10 9.6V18"/></g></svg></div>
<div class="row" style="top:800px;height:37px;"></div>
<div class="cb" style="left:224px;top:811.5px"></div>
<div class="td" style="left:254px;top:810.5px">256124283</div>
<div class="td" style="left:382px;top:810.5px">SKL_256124283</div>
<div class="td" style="left:521px;top:810.5px">08/01/2024 07:57</div>
<div class="td" style="left:666px;top:810.5px">Kris Test Kozelek</div>
<div class="td" style="left:951px;top:810.5px">UPS</div>
<div class="abs" style="left:1187.7px;top:799.7px;width:36px;height:36px"><svg width="36" height="36" viewBox="-18 -18 36 36" style="position:absolute;left:0;top:0"><circle cx="0" cy="0" r="13.6" fill="#fdf0f0" stroke="#f37070" stroke-width="1.1"/><g fill="none" stroke="#f36a6a" stroke-width="1.0" stroke-linejoin="round"><path d="M-6.9 -1.1H6.6V7H-6.9Z"/><path d="M-6.9 -1.1L-4.9 -5.2H4.8L6.6 -1.1"/><circle cx="0" cy="2.6" r="2.5"/><path d="M-0.9 2.9L0.9 2.2"/></g><circle cx="9.7" cy="-10" r="4.5" fill="#f25f5f"/><path d="M9.7 -12.8L12.2 -8.2H7.2Z" stroke="#fff" stroke-width="0.8" fill="none" stroke-linejoin="round"/></svg></div>
<div class="td" style="left:1228px;top:810.5px">Incorrect</div>
<div class="td" style="left:1302px;top:810.5px">INCORRECT_SHIPPIN...</div>
<div class="td" style="left:1454px;top:810.5px">Yes</div>
<div class="td" style="left:1580px;top:810.5px">104</div>
<div class="abs" style="left:1860px;top:808.0px"><svg width="20" height="20" viewBox="0 0 20 20"><g fill="none" stroke="#56617f" stroke-width="1.15" stroke-linejoin="round"><path d="M10 1.7L18.4 5.9V13.8L10 18L1.6 13.8V5.9Z"/><path d="M1.6 5.9L10 9.6L18.4 5.9M10 9.6V18"/></g></svg></div>
<div class="abs" style="left:1187.7px;top:837px;width:36px;height:9px;overflow:hidden"><div style="position:absolute;left:0;top:-2px;width:36px;height:36px"><svg width="36" height="36" viewBox="-18 -18 36 36" style="position:absolute;left:0;top:0"><circle cx="0" cy="0" r="13.6" fill="#f0fcf1" stroke="#9fe2a4" stroke-width="1.1"/><g fill="none" stroke="#5bc862" stroke-width="1.15" stroke-linejoin="round"><path d="M0.8 3.5H-6.3V-4.1H0.8V3.5"/><path d="M0.8 -0.3H4.8L6.6 1.5V3.5H5"/><path d="M-1.3 3.5H1.7"/><circle cx="-3.1" cy="4.3" r="1.6" fill="#f0fcf1"/><circle cx="3.4" cy="4.3" r="1.6" fill="#f0fcf1"/></g><circle cx="9.7" cy="-10.2" r="4.6" fill="#46c052"/><path d="M7.7 -10L9 -8.8L11.6 -11.5" stroke="#fff" stroke-width="0.9" fill="none"/></svg></div></div>
<div class="abs" style="left:1599px;top:859px;font-size:11.2px;color:#46557a;line-height:14px;white-space:nowrap">Rows per page</div>
<div class="abs" style="left:1687px;top:859px;font-size:11.2px;color:#333a4d;line-height:14px">20</div>
<div class="car" style="left:1705.5px;top:865.5px;border-left-width:4px;border-right-width:4px;border-top-width:4.5px"></div>
<div class="abs" style="left:1744px;top:859px;font-size:11.2px;color:#46557a;line-height:14px;white-space:nowrap">21–40 z 3259</div>
<svg class="abs" style="left:1839px;top:860.8px" width="12" height="12" viewBox="0 0 12 12"><path d="M8 2L4 6l4 4" fill="none" stroke="#46557a" stroke-width="1.5"/></svg>
<svg class="abs" style="left:1870.7px;top:860.8px" width="12" height="12" viewBox="0 0 12 12"><path d="M4 2l4 4-4 4" fill="none" stroke="#46557a" stroke-width="1.5"/></svg>
<div class="abs" style="left:1722px;top:190px;width:130px;height:99px;background:#fff;border-radius:5px;box-shadow:0 3px 8px rgba(0,0,0,0.22),0 0 2px rgba(0,0,0,0.08)"></div>
<svg class="abs" style="left:1735px;top:202px" width="19" height="18" viewBox="0 0 19 18"><g fill="none" stroke="#5f6b8a" stroke-width="1.2" stroke-linejoin="round"><path d="M9.5 1l8 4v8l-8 4-8-4v-8z"/><path d="M1.5 5l8 4 8-4M9.5 9v8"/></g></svg>
<div class="mi" style="top:202px">Order detail</div>
<svg class="abs" style="left:1736px;top:231px" width="18" height="18" viewBox="0 0 18 18"><g fill="none" stroke="#5f6b8a" stroke-width="1.2" stroke-linejoin="round"><path d="M5 1.5L2.5 4 5 6.5M2.5 4h11.5v8.5h-4.5"/><rect x="2.5" y="11" width="4" height="4"/></g></svg>
<div class="mi" style="top:231.5px">Create return</div>
<svg class="abs" style="left:1735px;top:259px" width="19" height="20" viewBox="0 0 19 20"><g fill="none" stroke="#5f6b8a" stroke-width="1.2" stroke-linejoin="round"><path d="M4.2 4.2A7.2 7.2 0 1 1 1.8 10.8"/><path d="M2.8 1v3.8h3.8"/><rect x="7.5" y="8.5" width="4" height="4"/></g></svg>
<div class="mi" style="top:260px">Create claim</div>
<div class="abs" style="left:1729px;top:251px;width:120px;height:5px;border-radius:3px;background:#22ad4b"></div>
<div class="abs" style="left:1848px;top:188px;width:46px;height:41px;border:5px solid #22ad4b"></div>
<div class="abs" style="left:1805px;top:895px;width:90px;height:30px;border-radius:15px 3px 15px 15px;background:#e8295f;color:#fff;font-size:10.6px;font-weight:bold;line-height:30px;white-space:nowrap"><svg style="position:absolute;left:8px;top:8px" width="14" height="14" viewBox="0 0 14 14"><circle cx="7" cy="7" r="6" fill="none" stroke="#fff" stroke-width="1.1"/><path d="M5.2 5.5a1.8 1.8 0 1 1 2.5 1.6c-.5.3-.7.6-.7 1.2" fill="none" stroke="#fff" stroke-width="1.1"/><circle cx="7" cy="10" r=".7" fill="#fff"/></svg><span style="position:absolute;left:26px">Help Desk</span></div>
</body></html>
